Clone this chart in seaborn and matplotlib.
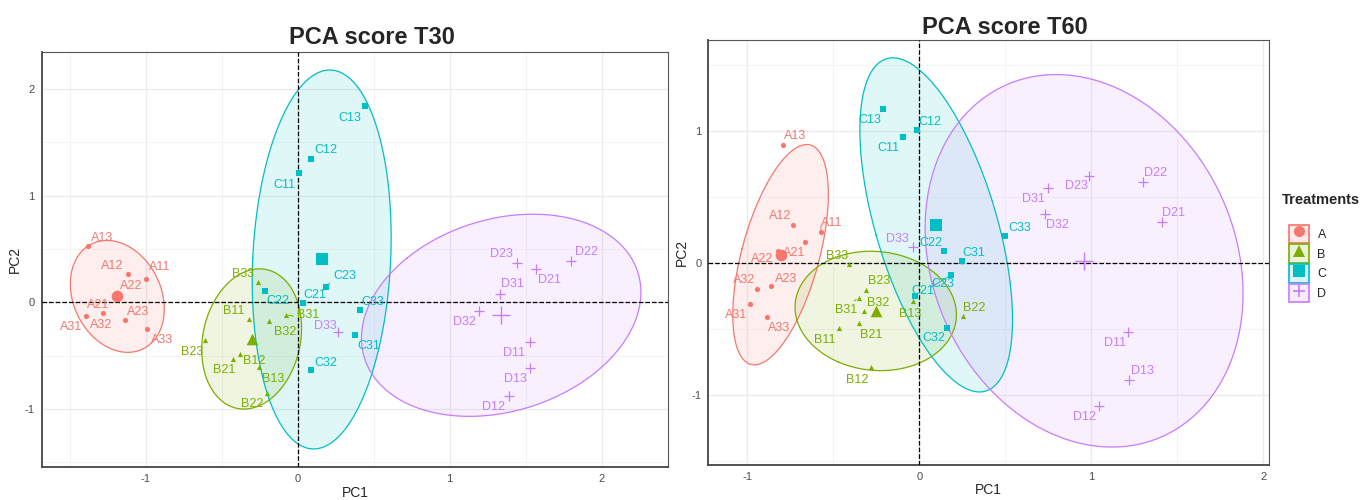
import numpy as np
import pandas as pd
import matplotlib.pyplot as plt
import seaborn as sns
from matplotlib.lines import Line2D
from matplotlib.patches import Patch
from matplotlib.legend_handler import HandlerTuple

# sample names and treatment groups
samples = ["A11", "A12", "A13", "A21", "A22", "A23", "A31", "A32", "A33",
           "B11", "B12", "B13", "B21", "B22", "B23", "B31", "B32", "B33",
           "C11", "C12", "C13", "C21", "C22", "C23", "C31", "C32", "C33",
           "D11", "D12", "D13", "D21", "D22", "D23", "D31", "D32", "D33"]
groups = ["A", "B", "C", "D"]

# PCA scores
pc1_t30 = [-0.995, -1.116, -1.38, -1.21, -1.18, -1.134, -1.395, -1.28, -0.99,
           -0.323, -0.378, -0.255, -0.428, -0.20, -0.613, -0.079, -0.189, -0.262,
           0.009, 0.09, 0.44, 0.033, -0.216, 0.189, 0.376, 0.09, 0.41,
           1.53, 1.393, 1.53, 1.567, 1.80, 1.44, 1.33, 1.195, 0.262]
pc2_t30 = [0.22, 0.268, 0.53, 0.05, 0.075, -0.165, -0.125, -0.10, -0.255,
           -0.153, -0.489, -0.61, -0.53, -0.853, -0.355, -0.115, -0.178, 0.187,
           1.21, 1.34, 1.84, -0.006, 0.106, 0.14, -0.305, -0.635, -0.075,
           -0.371, -0.88, -0.62, 0.308, 0.383, 0.367, 0.078, -0.081, -0.28]
pc1_t60 = [-0.573, -0.733, -0.794, -0.663, -0.82, -0.862, -0.982, -0.945, -0.884,
           -0.467, -0.283, -0.038, -0.352, 0.252, -0.308, -0.352, -0.321, -0.407,
           -0.097, -0.015, -0.209, -0.025, 0.144, 0.184, 0.246, 0.159, 0.50,
           1.215, 1.043, 1.221, 1.411, 1.302, 0.987, 0.748, 0.733, -0.035]
pc2_t60 = [0.232, 0.285, 0.894, 0.157, 0.093, -0.174, -0.311, -0.197, -0.407,
           -0.495, -0.785, -0.285, -0.455, -0.399, -0.205, -0.265, -0.366, -0.01,
           0.952, 1.01, 1.167, -0.25, 0.091, -0.093, 0.013, -0.495, 0.207,
           -0.52, -1.081, -0.889, 0.308, 0.614, 0.661, 0.566, 0.371, 0.124]

palette = {"A": "#F8766D", "B": "#7CAE00", "C": "#00BFC4", "D": "#C77CFF"}
markers = {"A": "o", "B": "^", "C": "s", "D": "+"}

# where each text label sits relative to its point (pixels), like ggrepel did it
off_t30 = {"A13": (14, 8), "A12": (-16, 8), "A11": (13, 12), "A22": (13, 8), "A21": (-16, -8),
           "A32": (-2, -12), "A31": (-15, -11), "A23": (13, 8), "A33": (15, -11),
           "B33": (-15, 8), "B11": (-15, 8), "B32": (16, -11), "B31": (22, 0), "B23": (-12, -12),
           "B12": (14, -7), "B21": (-8, -11), "B13": (14, -12), "B22": (-15, -11),
           "C13": (-15, -12), "C12": (14, 9), "C11": (-15, -12), "C23": (18, 11), "C22": (13, -10),
           "C21": (12, 8), "C33": (13, 8), "C31": (14, -11), "C32": (14, 7),
           "D23": (-15, 9), "D21": (14, -11), "D22": (15, 9), "D31": (13, 10), "D32": (-15, -11),
           "D11": (-16, -11), "D13": (-15, -11), "D12": (-16, -11), "D33": (-12, 6)}
off_t60 = {"A13": (12, 9), "A12": (-13, 9), "A11": (11, 9), "A21": (-11, -11), "A22": (-16, -8),
           "A23": (15, 7), "A32": (-13, 9), "A31": (-14, -11), "A33": (12, -11),
           "B33": (-12, 8), "B23": (13, 9), "B31": (-13, -12), "B32": (14, 8), "B21": (12, -12),
           "B11": (-14, -12), "B12": (-13, -13), "B13": (-3, -13), "B22": (12, 8),
           "C13": (-13, -11), "C12": (13, 8), "C11": (-14, -11), "C22": (-13, 8), "C31": (12, 8),
           "C33": (14, 8), "C23": (-8, -9), "C21": (8, 5), "C32": (-13, -10),
           "D23": (-13, -10), "D22": (12, 9), "D31": (-14, -11), "D32": (12, -11), "D21": (12, 9),
           "D11": (-13, -11), "D13": (13, 9), "D12": (-14, -11), "D33": (-16, 8)}
leaders = {"A11", "B31", "C23"}


def make_df(pc1, pc2):
    df = pd.DataFrame({"sample": samples, "PC1": pc1, "PC2": pc2})
    df["Treatments"] = df["sample"].str[0]
    return df


def ellipse(x, y, level=0.89, n=200):
    cov = np.cov(x, y)
    vals, vecs = np.linalg.eigh(cov)
    r = np.sqrt(-2 * np.log(1 - level))
    t = np.linspace(0, 2 * np.pi, n)
    circ = np.vstack([np.cos(t), np.sin(t)])
    pts = vecs @ (np.sqrt(vals)[:, None] * circ) * r
    return pts[0] + np.mean(x), pts[1] + np.mean(y)


sns.set_style("whitegrid")
plt.rcParams["font.family"] = ["Liberation Sans", "DejaVu Sans"]
plt.rcParams["axes.unicode_minus"] = False

fig = plt.figure(figsize=(13.63, 5), dpi=100)
ax1 = fig.add_axes([0.0306, 0.0654, 0.4595, 0.8306])
ax2 = fig.add_axes([0.5197, 0.07, 0.4113, 0.85])


def draw(ax, df, offsets, xlim, ylim, yticks):
    for g in groups:
        sub = df[df.Treatments == g]
        ex, ey = ellipse(sub.PC1.values, sub.PC2.values)
        ax.fill(ex, ey, color=palette[g], alpha=0.12, lw=0, zorder=1)
        ax.plot(ex, ey, color=palette[g], lw=0.9, zorder=2)
    ax.axhline(0, color="black", ls="--", lw=0.9, zorder=3)
    ax.axvline(0, color="black", ls="--", lw=0.9, zorder=3)
    centers = df.groupby("Treatments", as_index=False)[["PC1", "PC2"]].mean()
    for g in groups:
        sub = df[df.Treatments == g]
        cen = centers[centers.Treatments == g]
        if markers[g] == "+":
            sns.scatterplot(data=sub, x="PC1", y="PC2", marker="+", color=palette[g],
                            s=45, linewidth=0.9, ax=ax, zorder=4, legend=False)
            sns.scatterplot(data=cen, x="PC1", y="PC2", marker="+", color=palette[g],
                            s=150, linewidth=1.0, ax=ax, zorder=4, legend=False)
        else:
            sns.scatterplot(data=sub, x="PC1", y="PC2", marker=markers[g], color=palette[g],
                            s=14, linewidth=0, ax=ax, zorder=4, legend=False)
            sns.scatterplot(data=cen, x="PC1", y="PC2", marker=markers[g], color=palette[g],
                            s=70, linewidth=0, ax=ax, zorder=4, legend=False)
    for _, row in df.iterrows():
        dx, dy = offsets[row["sample"]]
        props = None
        if row["sample"] in leaders:
            props = dict(arrowstyle="-", color=palette[row.Treatments], lw=0.7,
                         shrinkA=0, shrinkB=2, relpos=(0, 0.3))
        ax.annotate(row["sample"], (row.PC1, row.PC2), xytext=(dx, dy),
                    textcoords="offset pixels", ha="center", va="center",
                    fontsize=9, color=palette[row.Treatments], zorder=5,
                    arrowprops=props)
    ax.set_xticks([-1, 0, 1, 2])
    ax.set_xticks(np.arange(-1.5, 2.51, 1.0), minor=True)
    ax.set_yticks(yticks)
    ax.set_yticks(np.arange(-1.5, 2.51, 1.0), minor=True)
    ax.set_xlim(*xlim)
    ax.set_ylim(*ylim)
    ax.grid(which="major", color="#EBEBEB", lw=0.9)
    ax.grid(which="minor", color="#F2F2F2", lw=0.6)
    ax.set_xlabel("PC1", fontsize=10, labelpad=1)
    ax.set_ylabel("PC2", fontsize=10, labelpad=2)
    ax.tick_params(which="major", length=3, width=0.8, color="#333333",
                   labelsize=8, labelcolor="#4D4D4D", pad=2)
    ax.tick_params(which="minor", length=0)
    for side in ["top", "right"]:
        ax.spines[side].set_color("#555555")
        ax.spines[side].set_linewidth(0.8)
    for side in ["left", "bottom"]:
        ax.spines[side].set_color("#444444")
        ax.spines[side].set_linewidth(1.3)


draw(ax1, make_df(pc1_t30, pc2_t30), off_t30, (-1.684, 2.436), (-1.548, 2.348), [-1, 0, 1, 2])
draw(ax2, make_df(pc1_t60, pc2_t60), off_t60, (-1.226, 2.033), (-1.53, 1.69), [-1, 0, 1])

title_font = ["Liberation Sans Narrow", "Liberation Sans", "DejaVu Sans"]
fig.text(372 / 1363, 1 - 38 / 500, "PCA score T30", ha="center", va="center",
         fontsize=17, fontweight="bold", family=title_font)
fig.text(1005 / 1363, 1 - 27 / 500, "PCA score T60", ha="center", va="center",
         fontsize=17, fontweight="bold", family=title_font)

# legend: title as its own text so the gap below it matches
fig.text(1282 / 1363, 1 - 200 / 500, "Treatments", ha="left", va="center",
         fontsize=10.5, fontweight="bold")
handles = []
for g in groups:
    box = Patch(facecolor=palette[g], alpha=0.15, edgecolor=palette[g], lw=1.2)
    edge = Patch(facecolor="none", edgecolor=palette[g], lw=1.2)
    mk = Line2D([], [], ls="", marker=markers[g], color=palette[g], markersize=8,
                markeredgewidth=1.2 if g == "D" else 0)
    handles.append((box, edge, mk))
leg = fig.legend(handles, groups, loc="upper left",
                 bbox_to_anchor=(1280 / 1363, 1 - 216 / 500), frameon=False,
                 handler_map={tuple: HandlerTuple(ndivide=1)},
                 handlelength=1.6, handleheight=1.9, labelspacing=0.1,
                 handletextpad=0.7, fontsize=9, borderpad=0.2)

fig.savefig("out.png", dpi=100)
